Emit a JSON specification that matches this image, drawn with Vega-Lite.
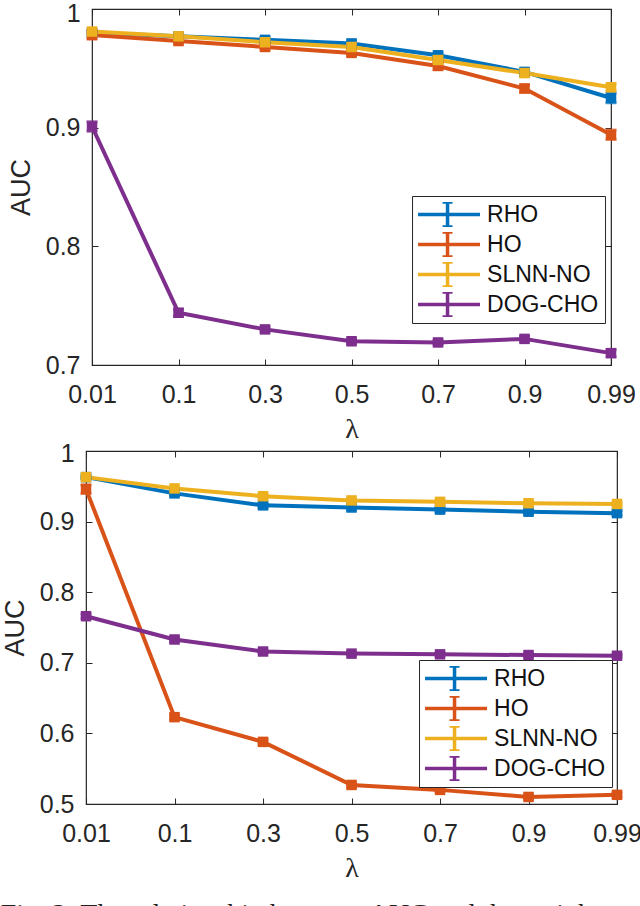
{
  "$schema": "https://vega.github.io/schema/vega-lite/v6.json",
  "padding": {"left": 0, "top": 0, "right": 0, "bottom": 0},
  "background": "white",
  "spacing": -4,
  "center": true,
  "title": {
    "text": "Fig. 3: The relationship between AUC and the weight",
    "orient": "bottom",
    "anchor": "start",
    "font": "Liberation Serif",
    "fontSize": 28,
    "fontWeight": "normal",
    "color": "#222222",
    "offset": 18
  },
  "datasets": {
    "p1": [
      {"method": "RHO", "lambda": "0.01", "auc": 0.980, "err": 0.002},
      {"method": "RHO", "lambda": "0.1", "auc": 0.977, "err": 0.002},
      {"method": "RHO", "lambda": "0.3", "auc": 0.974, "err": 0.002},
      {"method": "RHO", "lambda": "0.5", "auc": 0.971, "err": 0.002},
      {"method": "RHO", "lambda": "0.7", "auc": 0.961, "err": 0.002},
      {"method": "RHO", "lambda": "0.9", "auc": 0.947, "err": 0.002},
      {"method": "RHO", "lambda": "0.99", "auc": 0.925, "err": 0.004},
      {"method": "HO", "lambda": "0.01", "auc": 0.978, "err": 0.003},
      {"method": "HO", "lambda": "0.1", "auc": 0.973, "err": 0.002},
      {"method": "HO", "lambda": "0.3", "auc": 0.968, "err": 0.002},
      {"method": "HO", "lambda": "0.5", "auc": 0.963, "err": 0.002},
      {"method": "HO", "lambda": "0.7", "auc": 0.952, "err": 0.003},
      {"method": "HO", "lambda": "0.9", "auc": 0.933, "err": 0.003},
      {"method": "HO", "lambda": "0.99", "auc": 0.894, "err": 0.004},
      {"method": "SLNN-NO", "lambda": "0.01", "auc": 0.981, "err": 0.002},
      {"method": "SLNN-NO", "lambda": "0.1", "auc": 0.977, "err": 0.002},
      {"method": "SLNN-NO", "lambda": "0.3", "auc": 0.972, "err": 0.002},
      {"method": "SLNN-NO", "lambda": "0.5", "auc": 0.968, "err": 0.002},
      {"method": "SLNN-NO", "lambda": "0.7", "auc": 0.957, "err": 0.003},
      {"method": "SLNN-NO", "lambda": "0.9", "auc": 0.946, "err": 0.002},
      {"method": "SLNN-NO", "lambda": "0.99", "auc": 0.934, "err": 0.003},
      {"method": "DOG-CHO", "lambda": "0.01", "auc": 0.901, "err": 0.004},
      {"method": "DOG-CHO", "lambda": "0.1", "auc": 0.744, "err": 0.003},
      {"method": "DOG-CHO", "lambda": "0.3", "auc": 0.730, "err": 0.002},
      {"method": "DOG-CHO", "lambda": "0.5", "auc": 0.720, "err": 0.002},
      {"method": "DOG-CHO", "lambda": "0.7", "auc": 0.719, "err": 0.002},
      {"method": "DOG-CHO", "lambda": "0.9", "auc": 0.722, "err": 0.002},
      {"method": "DOG-CHO", "lambda": "0.99", "auc": 0.710, "err": 0.003}
    ],
    "p2": [
      {"method": "RHO", "lambda": "0.01", "auc": 0.963, "err": 0.002},
      {"method": "RHO", "lambda": "0.1", "auc": 0.940, "err": 0.003},
      {"method": "RHO", "lambda": "0.3", "auc": 0.923, "err": 0.003},
      {"method": "RHO", "lambda": "0.5", "auc": 0.920, "err": 0.003},
      {"method": "RHO", "lambda": "0.7", "auc": 0.917, "err": 0.003},
      {"method": "RHO", "lambda": "0.9", "auc": 0.914, "err": 0.003},
      {"method": "RHO", "lambda": "0.99", "auc": 0.912, "err": 0.003},
      {"method": "HO", "lambda": "0.01", "auc": 0.946, "err": 0.006},
      {"method": "HO", "lambda": "0.1", "auc": 0.623, "err": 0.003},
      {"method": "HO", "lambda": "0.3", "auc": 0.588, "err": 0.003},
      {"method": "HO", "lambda": "0.5", "auc": 0.527, "err": 0.003},
      {"method": "HO", "lambda": "0.7", "auc": 0.520, "err": 0.002},
      {"method": "HO", "lambda": "0.9", "auc": 0.510, "err": 0.003},
      {"method": "HO", "lambda": "0.99", "auc": 0.513, "err": 0.003},
      {"method": "SLNN-NO", "lambda": "0.01", "auc": 0.963, "err": 0.002},
      {"method": "SLNN-NO", "lambda": "0.1", "auc": 0.947, "err": 0.002},
      {"method": "SLNN-NO", "lambda": "0.3", "auc": 0.936, "err": 0.003},
      {"method": "SLNN-NO", "lambda": "0.5", "auc": 0.930, "err": 0.002},
      {"method": "SLNN-NO", "lambda": "0.7", "auc": 0.928, "err": 0.002},
      {"method": "SLNN-NO", "lambda": "0.9", "auc": 0.926, "err": 0.002},
      {"method": "SLNN-NO", "lambda": "0.99", "auc": 0.925, "err": 0.002},
      {"method": "DOG-CHO", "lambda": "0.01", "auc": 0.766, "err": 0.003},
      {"method": "DOG-CHO", "lambda": "0.1", "auc": 0.733, "err": 0.003},
      {"method": "DOG-CHO", "lambda": "0.3", "auc": 0.716, "err": 0.002},
      {"method": "DOG-CHO", "lambda": "0.5", "auc": 0.713, "err": 0.002},
      {"method": "DOG-CHO", "lambda": "0.7", "auc": 0.712, "err": 0.002},
      {"method": "DOG-CHO", "lambda": "0.9", "auc": 0.711, "err": 0.002},
      {"method": "DOG-CHO", "lambda": "0.99", "auc": 0.710, "err": 0.002}
    ]
  },
  "vconcat": [
    {
      "width": 519,
      "height": 356,
      "data": {"name": "p1"},
      "encoding": {
        "x": {
          "field": "lambda",
          "type": "ordinal",
          "scale": {"type": "point", "padding": 0, "domain": ["0.01", "0.1", "0.3", "0.5", "0.7", "0.9", "0.99"]},
          "axis": {"title": "λ"}
        },
        "y": {
          "field": "auc",
          "type": "quantitative",
          "scale": {"domain": [0.7, 1], "nice": false, "zero": false},
          "axis": {
            "title": "AUC",
            "values": [0.7, 0.8, 0.9, 1],
            "format": "~g",
            "labelOffset": {"condition": {"test": "datum.value == 1", "value": 4}, "value": 0}
          }
        },
        "color": {
          "field": "method",
          "type": "nominal",
          "scale": {"domain": ["RHO", "HO", "SLNN-NO", "DOG-CHO"], "range": ["#0072BD", "#D95319", "#EDB120", "#7E2F8E"]},
          "legend": {"orient": "none", "legendX": 320, "legendY": 187}
        }
      },
      "layer": [
        {
          "layer": [
            {"mark": {"type": "line", "strokeWidth": 4}},
            {"mark": {"type": "errorbar", "ticks": true, "thickness": 3, "size": 11}, "encoding": {"yError": {"field": "err"}}},
            {"mark": {"type": "point", "shape": "square", "filled": true, "size": 110, "opacity": 1}}
          ]
        },
        {
          "mark": {"type": "point", "opacity": 0},
          "encoding": {
            "x": {
              "field": "lambda",
              "type": "ordinal",
              "axis": {"orient": "top", "labels": false, "title": null}
            },
            "y": {
              "field": "auc",
              "type": "quantitative",
              "axis": {"orient": "right", "labels": false, "title": null, "values": [0.7, 0.8, 0.9, 1]}
            }
          }
        }
      ],
      "resolve": {"axis": {"x": "independent", "y": "independent"}}
    },
    {
      "width": 531,
      "height": 353,
      "data": {"name": "p2"},
      "encoding": {
        "x": {
          "field": "lambda",
          "type": "ordinal",
          "scale": {"type": "point", "padding": 0, "domain": ["0.01", "0.1", "0.3", "0.5", "0.7", "0.9", "0.99"]},
          "axis": {"title": "λ"}
        },
        "y": {
          "field": "auc",
          "type": "quantitative",
          "scale": {"domain": [0.5, 1], "nice": false, "zero": false},
          "axis": {
            "title": "AUC",
            "values": [0.5, 0.6, 0.7, 0.8, 0.9, 1],
            "format": "~g",
            "labelOffset": {"condition": {"test": "datum.value == 1", "value": 2}, "value": 0}
          }
        },
        "color": {
          "field": "method",
          "type": "nominal",
          "scale": {"domain": ["RHO", "HO", "SLNN-NO", "DOG-CHO"], "range": ["#0072BD", "#D95319", "#EDB120", "#7E2F8E"]},
          "legend": {"orient": "none", "legendX": 333, "legendY": 209}
        }
      },
      "layer": [
        {
          "layer": [
            {"mark": {"type": "line", "strokeWidth": 4}},
            {"mark": {"type": "errorbar", "ticks": true, "thickness": 3, "size": 11}, "encoding": {"yError": {"field": "err"}}},
            {"mark": {"type": "point", "shape": "square", "filled": true, "size": 110, "opacity": 1}}
          ]
        },
        {
          "mark": {"type": "point", "opacity": 0},
          "encoding": {
            "x": {
              "field": "lambda",
              "type": "ordinal",
              "axis": {"orient": "top", "labels": false, "title": null}
            },
            "y": {
              "field": "auc",
              "type": "quantitative",
              "axis": {"orient": "right", "labels": false, "title": null, "values": [0.5, 0.6, 0.7, 0.8, 0.9, 1]}
            }
          }
        }
      ],
      "resolve": {"axis": {"x": "independent", "y": "independent"}}
    }
  ],
  "resolve": {
    "scale": {"x": "independent", "y": "independent", "color": "independent"},
    "axis": {"x": "independent", "y": "independent"},
    "legend": {"color": "independent"}
  },
  "config": {
    "view": {"stroke": "#262626", "strokeWidth": 1.2},
    "axis": {
      "labelFont": "Liberation Sans",
      "labelFontSize": 25,
      "labelColor": "#262626",
      "titleFont": "Liberation Sans",
      "titleFontSize": 27,
      "titleFontWeight": "normal",
      "titleColor": "#262626",
      "domain": false,
      "grid": false,
      "tickColor": "#262626",
      "tickSize": -6,
      "tickWidth": 1
    },
    "axisX": {
      "labelAngle": 0,
      "labelPadding": 23,
      "titleFont": "Liberation Serif",
      "titleFontSize": 28,
      "titlePadding": 8
    },
    "axisY": {
      "labelPadding": 18,
      "titlePadding": 10
    },
    "legend": {
      "title": null,
      "strokeColor": "#262626",
      "fillColor": "white",
      "padding": 6,
      "clipHeight": 25,
      "symbolType": "M-2.6,0H2.6M0,-1V1M-0.4,-1H0.4M-0.4,1H0.4",
      "symbolSize": 625,
      "symbolStrokeWidth": 3.5,
      "symbolOpacity": 1,
      "symbolOffset": 15,
      "symbolFillColor": "transparent",
      "labelOffset": 25,
      "labelFont": "Liberation Sans",
      "labelFontSize": 23,
      "labelColor": "#111111",
      "rowPadding": 5
    }
  }
}
